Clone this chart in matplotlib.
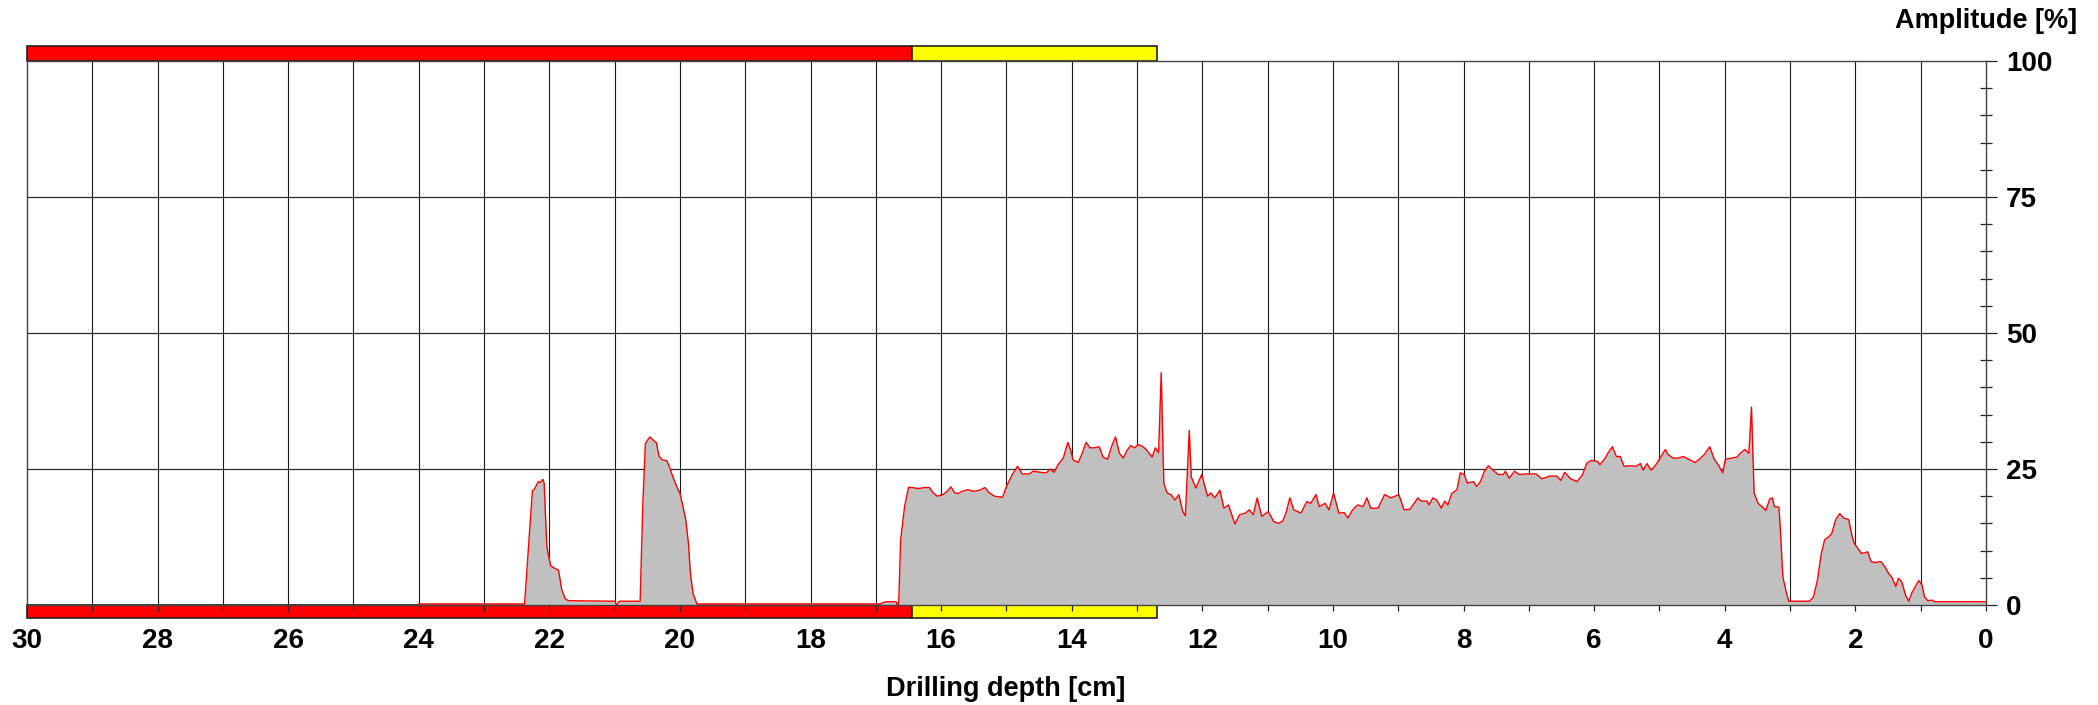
import matplotlib.pyplot as plt
from matplotlib.patches import Rectangle
from matplotlib.transforms import blended_transform_factory
from matplotlib.ticker import MultipleLocator

plt.rcParams['font.family'] = ['Liberation Sans', 'DejaVu Sans']
plt.rcParams['font.weight'] = 'bold'

# Profil: Tiefe [cm] und Amplitude [%]
depth_cm = [
    24.0, 22.38, 22.26, 22.23, 22.19, 22.17, 22.14, 22.10, 22.08, 22.04,
    22.02, 21.98, 21.91, 21.86, 21.81, 21.76, 21.71, 21.00, 20.97, 20.93,
    20.61, 20.57, 20.53, 20.48, 20.46, 20.41, 20.36, 20.32, 20.27, 20.20,
    20.16, 20.11, 20.05, 20.00, 19.96, 19.91, 19.87, 19.84, 19.80, 19.74,
    16.94, 16.85, 16.69, 16.67, 16.65, 16.62, 16.56, 16.50, 16.44, 16.35,
    16.26, 16.18, 16.12, 16.06, 15.97, 15.91, 15.85, 15.79, 15.74, 15.68,
    15.59, 15.50, 15.41, 15.33, 15.27, 15.18, 15.06, 15.00, 14.91, 14.83,
    14.76, 14.65, 14.59, 14.48, 14.39, 14.33, 14.27, 14.21, 14.13, 14.06,
    14.02, 13.98, 13.90, 13.84, 13.78, 13.72, 13.65, 13.58, 13.52, 13.45,
    13.39, 13.33, 13.27, 13.21, 13.16, 13.10, 13.04, 12.98, 12.92, 12.86,
    12.77, 12.72, 12.67, 12.63, 12.59, 12.54, 12.48, 12.42, 12.36, 12.30,
    12.26, 12.23, 12.20, 12.17, 12.10, 12.01, 11.92, 11.87, 11.81, 11.73,
    11.67, 11.60, 11.55, 11.50, 11.43, 11.34, 11.28, 11.22, 11.16, 11.09,
    10.99, 10.91, 10.84, 10.77, 10.72, 10.66, 10.60, 10.49, 10.40, 10.34,
    10.26, 10.21, 10.12, 10.06, 9.99, 9.91, 9.83, 9.77, 9.70, 9.62,
    9.54, 9.48, 9.42, 9.31, 9.21, 9.11, 8.99, 8.91, 8.82, 8.70,
    8.65, 8.56, 8.53, 8.47, 8.41, 8.34, 8.29, 8.24, 8.18, 8.10,
    8.05, 7.99, 7.94, 7.85, 7.80, 7.74, 7.68, 7.62, 7.56, 7.47,
    7.39, 7.36, 7.30, 7.22, 7.15, 7.03, 6.89, 6.80, 6.68, 6.57,
    6.51, 6.45, 6.36, 6.26, 6.18, 6.11, 6.04, 5.95, 5.91, 5.83,
    5.79, 5.72, 5.66, 5.60, 5.54, 5.45, 5.36, 5.29, 5.25, 5.19,
    5.13, 5.07, 4.99, 4.91, 4.87, 4.79, 4.72, 4.63, 4.54, 4.45,
    4.37, 4.31, 4.23, 4.16, 4.10, 4.03, 3.99, 3.90, 3.81, 3.76,
    3.69, 3.63, 3.59, 3.55, 3.49, 3.43, 3.37, 3.31, 3.27, 3.24,
    3.17, 3.15, 3.11, 3.06, 3.02, 2.70, 2.64, 2.58, 2.52, 2.47,
    2.41, 2.36, 2.30, 2.24, 2.18, 2.10, 2.06, 2.02, 1.96, 1.91,
    1.85, 1.81, 1.76, 1.70, 1.61, 1.55, 1.49, 1.44, 1.38, 1.34,
    1.29, 1.23, 1.18, 1.14, 1.08, 1.03, 0.98, 0.94, 0.89, 0.82,
    0.79, 0.0,
]
amplitude_pct = [
    0.2, 0.2, 21.0, 21.3, 22.2, 22.7, 22.5, 23.1, 22.4, 11.0,
    9.5, 7.2, 6.7, 6.4, 2.8, 1.2, 0.8, 0.7, 0.0, 0.7,
    0.7, 18.1, 29.7, 30.6, 30.9, 30.3, 29.8, 27.3, 26.7, 26.5,
    25.4, 23.6, 21.8, 20.5, 18.4, 15.6, 11.3, 5.8, 2.1, 0.2,
    0.2, 0.6, 0.6, 0.0, 0.3, 12.0, 18.1, 21.6, 21.6, 21.4,
    21.6, 21.6, 20.6, 20.0, 20.3, 20.9, 21.7, 20.6, 20.5, 20.9,
    21.2, 20.9, 21.1, 21.6, 20.7, 20.0, 19.8, 21.8, 24.0, 25.5,
    24.1, 24.1, 24.6, 24.4, 24.3, 25.0, 24.4, 25.8, 27.0, 29.9,
    28.6, 26.7, 26.2, 27.9, 29.9, 28.9, 28.9, 29.1, 27.2, 26.8,
    29.2, 30.9, 27.9, 27.0, 28.3, 29.3, 28.9, 29.5, 29.2, 28.6,
    27.2, 28.9, 28.0, 42.7, 22.4, 20.6, 20.3, 19.3, 20.3, 17.2,
    16.4, 24.3, 32.1, 23.6, 21.5, 24.0, 20.0, 20.6, 19.7, 21.1,
    17.8, 18.4, 16.6, 14.9, 16.6, 16.9, 17.5, 16.6, 19.7, 16.3,
    17.2, 15.4, 15.0, 15.4, 16.9, 19.7, 17.5, 16.9, 19.0, 18.7,
    20.3, 18.1, 18.7, 17.5, 20.6, 16.9, 17.0, 16.0, 17.5, 18.4,
    18.1, 19.7, 17.8, 17.8, 20.3, 19.7, 20.3, 17.5, 17.6, 19.7,
    19.1, 19.1, 18.4, 19.7, 19.3, 17.8, 19.1, 18.4, 20.5, 21.2,
    24.3, 24.0, 22.4, 22.7, 21.8, 22.7, 24.6, 25.6, 24.9, 24.0,
    24.0, 24.6, 23.3, 24.6, 24.0, 24.1, 24.1, 23.2, 23.7, 23.7,
    22.9, 24.4, 23.2, 22.7, 23.9, 26.1, 26.6, 26.4, 25.8, 27.0,
    27.9, 29.1, 27.3, 27.3, 25.5, 25.6, 25.5, 26.0, 24.8, 26.0,
    24.8, 25.5, 27.0, 28.6, 27.7, 27.0, 27.0, 27.3, 26.7, 26.2,
    27.0, 27.7, 29.1, 26.8, 25.8, 24.3, 26.8, 27.0, 27.2, 27.9,
    28.6, 27.9, 36.4, 20.6, 18.7, 18.1, 17.4, 19.5, 19.7, 18.1,
    18.0, 14.4, 5.2, 2.5, 0.7, 0.7, 1.5, 4.6, 9.5, 12.0,
    12.5, 13.2, 15.7, 16.8, 16.0, 15.7, 13.2, 11.4, 10.4, 9.5,
    9.6, 9.8, 8.0, 7.8, 8.0, 7.1, 5.8, 5.1, 3.4, 4.9,
    4.3, 1.8, 0.7, 2.1, 3.4, 4.5, 3.7, 1.5, 0.8, 0.9,
    0.6, 0.6,
]

# Bewertungsbalken (Grenzen in cm)
zone_edges = [30.0, 16.45, 12.7]
zone_colors = ['#ff0000', '#ffff00']

fig = plt.figure(figsize=(20.98, 7.05), dpi=100)
ax = fig.add_axes([0.01287, 0.1418, 0.9337, 0.7716])
ax.set_xlim(30, 0)
ax.set_ylim(0, 100)

# Gitter
for d in range(1, 30):
    ax.axvline(d, color='#1a1a1a', lw=0.8, zorder=1)
for v in [25, 50, 75]:
    ax.axhline(v, color='#2a2a2a', lw=0.9, zorder=1)

ax.fill_between(depth_cm, amplitude_pct, 0, color='#c0c0c0', lw=0, zorder=2)
ax.plot(depth_cm, amplitude_pct, color='#ff0000', lw=1.0, zorder=3)

# Balken oben und unten
trans = blended_transform_factory(ax.transData, ax.transAxes)
for i in range(len(zone_colors)):
    x0 = zone_edges[i]
    w = zone_edges[i + 1] - zone_edges[i]
    ax.add_patch(Rectangle((x0, 1.0), w, 0.0285, transform=trans, clip_on=False,
                           facecolor=zone_colors[i], edgecolor='#222222', lw=1.2, zorder=1.2))
    ax.add_patch(Rectangle((x0, -0.024), w, 0.024, transform=trans, clip_on=False,
                           facecolor=zone_colors[i], edgecolor='#222222', lw=1.2, zorder=1.2))

for s in ax.spines.values():
    s.set_color('#444444')
    s.set_linewidth(1.0)

ax.yaxis.tick_right()
ax.yaxis.set_major_locator(MultipleLocator(25))
ax.yaxis.set_minor_locator(MultipleLocator(5))
ax.tick_params(axis='y', which='major', direction='out', length=8, width=0.9,
               color='#222222', pad=6.5, labelsize=20)
ax.tick_params(axis='y', which='minor', direction='inout', length=8, width=0.9,
               color='#222222')

ax.xaxis.set_major_locator(MultipleLocator(2))
ax.xaxis.set_minor_locator(MultipleLocator(1))
ax.tick_params(axis='x', which='both', direction='out', length=4.5, width=0.9,
               color='#222222')
ax.tick_params(axis='x', which='major', pad=12, labelsize=20)

for lab in ax.get_xticklabels() + ax.get_yticklabels():
    lab.set_fontweight('bold')

fig.text(0.99, 0.97, 'Amplitude [%]', ha='right', va='center', fontsize=19.5, fontweight='bold')
fig.text(0.4795, 0.023, 'Drilling depth [cm]', ha='center', va='center', fontsize=19.5,
         fontweight='bold')

fig.savefig('out.png', dpi=100)
